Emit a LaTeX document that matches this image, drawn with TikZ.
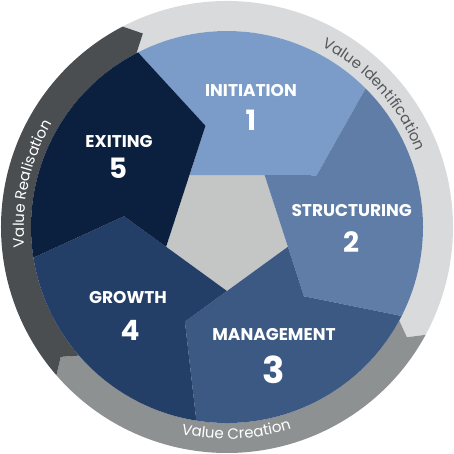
\documentclass[tikz,border=0pt]{standalone}
\usepackage{fontspec}
\setmainfont{Poppins}
\usepackage{tikz}
\usetikzlibrary{decorations.text}
\definecolor{ringlight}{HTML}{D9DADB}
\definecolor{ringmid}{HTML}{8E9192}
\definecolor{ringdark}{HTML}{4B4E51}
\definecolor{ringtext}{HTML}{55585B}
\definecolor{core}{HTML}{C4C5C5}
\definecolor{initiation}{HTML}{7B9CC8}
\definecolor{structuring}{HTML}{5F7DA6}
\definecolor{management}{HTML}{3C5984}
\definecolor{growth}{HTML}{243F67}
\definecolor{exiting}{HTML}{0B1F3F}
\begin{document}
\begin{tikzpicture}
            [x=1pt, y=1pt, every node/.style={inner sep=0pt},
             title/.style={text=white, font=\bfseries\fontsize{17}{17}\selectfont},
             number/.style={text=white, font=\bfseries\fontsize{28}{28}\selectfont},
             ringlabel/.style={decorate, decoration={text along path, text align=center, text={#1}}}]
                \useasboundingbox (-227, -226) rectangle (227, 227);
                \fill [ringlight] (117.5:226) arc[start angle=117.5, end angle=-28.5, radius=226] -- (-31.5:211) -- (-28.5:196) arc[start angle=-28.5, end angle=117.5, radius=196] -- (113.5:211) -- cycle;
                \fill [ringmid] (-28.5:226) arc[start angle=-28.5, end angle=-139, radius=226] -- (-142:211) -- (-139:196) arc[start angle=-139, end angle=-28.5, radius=196] -- (-31.5:211) -- cycle;
                \fill [ringdark] (221:226) arc[start angle=221, end angle=117.5, radius=226] -- (113.5:211) -- (117.5:196) arc[start angle=117.5, end angle=221, radius=196] -- (218:211) -- cycle;
                \fill [core] (126:64) -- (54:64) -- (-18:64) -- (-90:64) -- (198:64) -- cycle;
                \fill [initiation] (126:64) -- (54:64) -- (30:103.5) -- (45:196) arc[start angle=45, end angle=117, radius=196] -- (102:103.5) -- cycle;
                \fill [structuring] (54:64) -- (-18:64) -- (-42:103.5) -- (-27:196) arc[start angle=-27, end angle=45, radius=196] -- (30:103.5) -- cycle;
                \fill [management] (-18:64) -- (-90:64) -- (-114:103.5) -- (-99:196) arc[start angle=-99, end angle=-27, radius=196] -- (-42:103.5) -- cycle;
                \fill [growth] (-90:64) -- (198:64) -- (174:103.5) -- (189:196) arc[start angle=189, end angle=261, radius=196] -- (-114:103.5) -- cycle;
                \fill [exiting] (198:64) -- (126:64) -- (102:103.5) -- (117:196) arc[start angle=117, end angle=189, radius=196] -- (174:103.5) -- cycle;
                \path [ringlabel={|\fontsize{15}{15}\selectfont\color{ringtext}|Value Identification}] (72:204) arc[start angle=72, end angle=12, radius=204];
                \path [ringlabel={|\fontsize{15}{15}\selectfont\color{white}|Value Creation}] (-117.4:212) arc[start angle=-117.4, end angle=-57.4, radius=212];
                \path [ringlabel={|\fontsize{15}{15}\selectfont\color{white}|Value Realisation}] (197.5:203) arc[start angle=197.5, end angle=137.5, radius=203];
                \node (1) [title] at (24pt, 136.5pt) {INITIATION};
                \node (n1) [number] at (24pt, 107pt) {1};
                \node (2) [title] at (124.7pt, 16.5pt) {STRUCTURING};
                \node (n2) [number] at (124pt, -14.7pt) {2};
                \node (3) [title] at (47pt, -108pt) {MANAGEMENT};
                \node (n3) [number, font=\bfseries\fontsize{37}{37}\selectfont] at (47pt, -143pt) {3};
                \node (4) [title] at (-99pt, -71pt) {GROWTH};
                \node (n4) [number] at (-97pt, -103pt) {4};
                \node (5) [title] at (-108pt, 85pt) {EXITING};
                \node (n5) [number] at (-109pt, 59pt) {5};
            \end{tikzpicture}
\end{document}
